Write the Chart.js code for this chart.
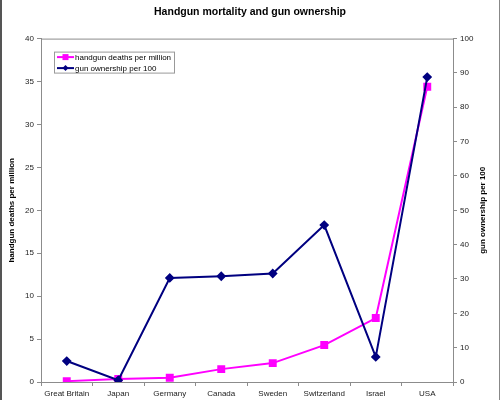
<!DOCTYPE html>
<html>
<head>
<meta charset="utf-8">
<script src="https://cdn.jsdelivr.net/npm/chart.js@4.4.0/dist/chart.umd.min.js"></script>
<style>
  html, body { margin: 0; padding: 0; background: #fff; }
  #wrap { width: 500px; height: 400px; position: relative; }
</style>
</head>
<body>
<div id="wrap"><canvas id="chart"></canvas></div>
<script>
const countries = ['Great Britain', 'Japan', 'Germany', 'Canada', 'Sweden', 'Switzerland', 'Israel', 'USA'];
const deathsPerMillion = [0.1, 0.35, 0.5, 1.5, 2.2, 4.3, 7.45, 34.4];
const ownershipPer100 = [6.1, 0.5, 30.3, 30.8, 31.6, 45.7, 7.3, 88.8];
const leftTicks = [0, 5, 10, 15, 20, 25, 30, 35, 40];
const rightTicks = [0, 10, 20, 30, 40, 50, 60, 70, 80, 90, 100];

const ff = 'Arial, "Liberation Sans", sans-serif';
const axisGray = '#8c8c8c';
const tickColor = '#222';
const rightTitle = 'gun ownership per 100';

// side edges of the picture + top edge of the plot box + right axis title
const framePlugin = {
    id: 'frame',
    afterDraw(chart) {
        const c = chart.ctx, a = chart.chartArea;
        c.save();
        c.strokeStyle = axisGray; c.lineWidth = 1;
        c.beginPath(); c.moveTo(a.left, a.top + 0.5); c.lineTo(a.right, a.top + 0.5); c.stroke();
        c.strokeStyle = '#555'; c.lineWidth = 2;
        c.beginPath(); c.moveTo(1, 0); c.lineTo(1, chart.height); c.stroke();
        c.strokeStyle = '#888'; c.lineWidth = 1;
        c.beginPath(); c.moveTo(chart.width - 0.5, 0); c.lineTo(chart.width - 0.5, chart.height); c.stroke();
        // right axis title, reading bottom to top
        c.fillStyle = '#000';
        c.font = 'bold 8px ' + ff;
        c.textAlign = 'center'; c.textBaseline = 'middle';
        c.translate(483, (a.top + a.bottom) / 2);
        c.rotate(-Math.PI / 2);
        c.fillText(rightTitle, 0, 0);
        c.restore();
    }
};

// boxed legend inside the plot, top left
const boxLegend = {
    id: 'boxLegend',
    afterDatasetsDraw(chart) {
        const c = chart.ctx, a = chart.chartArea;
        const x = a.left + 13, y = a.top + 13, w = 120, h = 21;
        c.save();
        c.fillStyle = '#fff'; c.fillRect(x, y, w, h);
        c.strokeStyle = '#999'; c.lineWidth = 1;
        c.strokeRect(x + 0.5, y + 0.5, w, h);
        c.font = '8px ' + ff; c.textBaseline = 'middle'; c.textAlign = 'left';
        chart.data.datasets.forEach((ds, i) => {
            const ly = y + 5.5 + i * 11;
            c.strokeStyle = ds.borderColor; c.lineWidth = 2;
            c.beginPath(); c.moveTo(x + 3, ly); c.lineTo(x + 20, ly); c.stroke();
            c.fillStyle = ds.borderColor;
            if (ds.pointStyle === 'rect') {
                c.fillRect(x + 8.5, ly - 3, 6, 6);
            } else {
                c.beginPath();
                c.moveTo(x + 11.5, ly - 3); c.lineTo(x + 14.5, ly);
                c.lineTo(x + 11.5, ly + 3); c.lineTo(x + 8.5, ly);
                c.closePath(); c.fill();
            }
            c.fillStyle = '#000';
            c.fillText(ds.label, x + 21, ly + 0.5);
        });
        c.restore();
    }
};

new Chart(document.getElementById('chart'), {
    type: 'line',
    data: {
        labels: countries,
        datasets: [
            { label: 'handgun deaths per million', data: deathsPerMillion, yAxisID: 'y',
              borderColor: '#ff00ff', backgroundColor: '#ff00ff', borderWidth: 2,
              pointStyle: 'rect', pointRadius: 4.2, pointHoverRadius: 4.2, order: 1 },
            { label: 'gun ownership per 100', data: ownershipPer100, yAxisID: 'y2',
              borderColor: '#000080', backgroundColor: '#000080', borderWidth: 2,
              pointStyle: 'rectRot', pointRadius: 3.5, pointHoverRadius: 3.5, order: 0 }
        ]
    },
    options: {
        responsive: true, maintainAspectRatio: false, animation: false,
        layout: { padding: 0 },
        plugins: {
            legend: { display: false },
            tooltip: { enabled: false },
            title: { display: true, text: 'Handgun mortality and gun ownership', color: '#000',
                     font: { size: 10.5, weight: 'bold', family: ff }, padding: { top: 6, bottom: 20 } }
        },
        scales: {
            x: {
                offset: true,
                grid: { offset: true, drawOnChartArea: false, drawTicks: true, tickLength: 4, color: axisGray },
                border: { color: axisGray },
                ticks: { color: tickColor, font: { size: 8, family: ff }, padding: 3, maxRotation: 0, autoSkip: false },
                afterFit(s) { s.height = 18; }
            },
            y: {
                position: 'left', min: 0, max: 40,
                afterBuildTicks(s) { s.ticks = leftTicks.map(v => ({ value: v })); },
                grid: { drawOnChartArea: false, tickLength: 4, color: axisGray },
                border: { color: axisGray },
                ticks: { color: tickColor, font: { size: 8, family: ff }, padding: 3 },
                title: { display: true, text: 'handgun deaths per million', color: '#000',
                         font: { size: 8, weight: 'bold', family: ff }, padding: { top: 7, bottom: 0 } },
                afterFit(s) { s.width = 41; }
            },
            y2: {
                position: 'right', min: 0, max: 100,
                afterBuildTicks(s) { s.ticks = rightTicks.map(v => ({ value: v })); },
                grid: { drawOnChartArea: false, tickLength: 4, color: axisGray },
                border: { color: axisGray },
                ticks: { color: tickColor, font: { size: 8, family: ff }, padding: 3 },
                afterFit(s) { s.width = 47; }
            }
        }
    },
    plugins: [framePlugin, boxLegend]
});
</script>
</body>
</html>
